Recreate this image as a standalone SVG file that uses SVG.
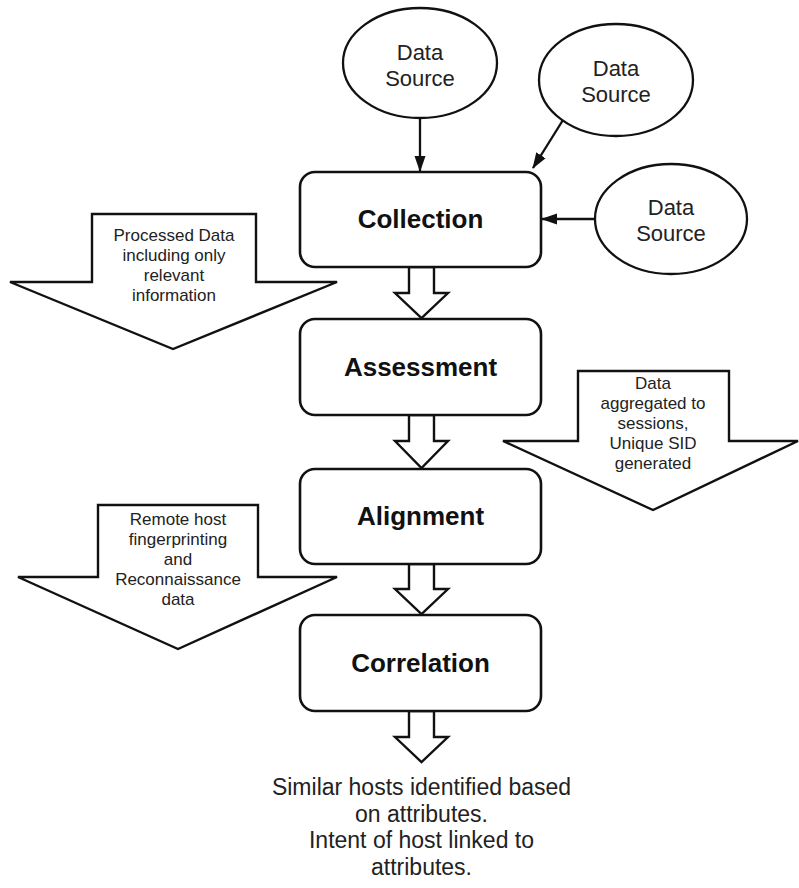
<svg xmlns="http://www.w3.org/2000/svg" width="799" height="888" viewBox="0 0 799 888">
  <style>
    .stage { fill: #fff; stroke: #111; stroke-width: 2.6; }
    .src { fill: #fff; stroke: #111; stroke-width: 2.3; }
    .flow { fill: #fff; stroke: #111; stroke-width: 2.4; stroke-linejoin: miter; }
    .link { fill: none; stroke: #111; stroke-width: 2.3; }
    .title { font-family: "Liberation Sans", Arial, sans-serif; font-weight: bold; font-size: 26px; fill: #111; text-anchor: middle; }
    .srcText { font-family: "Liberation Sans", Arial, sans-serif; font-size: 22px; fill: #222; text-anchor: middle; }
    .note { font-family: "Liberation Sans", Arial, sans-serif; font-size: 17px; fill: #222; text-anchor: middle; }
    .result { font-family: "Liberation Sans", Arial, sans-serif; font-size: 23px; fill: #222; text-anchor: middle; }
  </style>
  <defs>
    <marker id="head" markerWidth="16" markerHeight="12" viewBox="0 0 16 12" refX="15" refY="6" orient="auto" markerUnits="userSpaceOnUse">
      <path d="M0,0.5 L16,6 L0,11.5 Z" fill="#111"/>
    </marker>
  </defs>
  <rect width="799" height="888" fill="#fff"/>

  <!-- data sources -->
  <g id="source-top">
    <ellipse class="src" cx="420" cy="63" rx="77" ry="55"/>
    <text class="srcText" x="420" y="60">Data</text>
    <text class="srcText" x="420" y="86">Source</text>
  </g>
  <g id="source-upper-right">
    <ellipse class="src" cx="616" cy="80" rx="77" ry="56"/>
    <text class="srcText" x="616" y="76">Data</text>
    <text class="srcText" x="616" y="102">Source</text>
  </g>
  <g id="source-right">
    <ellipse class="src" cx="671" cy="219" rx="76" ry="55"/>
    <text class="srcText" x="671" y="215">Data</text>
    <text class="srcText" x="671" y="241">Source</text>
  </g>

  <!-- connectors: source links and stage-to-stage block arrows -->
  <g id="connectors">
    <line class="link" x1="420" y1="118" x2="420" y2="171" marker-end="url(#head)"/>
    <line class="link" x1="563" y1="120" x2="533" y2="168" marker-end="url(#head)"/>
    <line class="link" x1="595" y1="219" x2="542" y2="219" marker-end="url(#head)"/>
    <path class="flow" d="M409,267 L434,267 L434,293 L448,293 L421.5,318 L395,293 L409,293 Z"/>
    <path class="flow" d="M409,415 L434,415 L434,441 L448,441 L421.5,468 L395,441 L409,441 Z"/>
    <path class="flow" d="M409,564 L434,564 L434,589 L448,589 L421.5,614 L395,589 L409,589 Z"/>
    <path class="flow" d="M409,711 L434,711 L434,737 L448,737 L421.5,762 L395,737 L409,737 Z"/>
  </g>

  <!-- processing stages -->
  <g id="collection">
    <rect class="stage" x="300" y="172" width="241" height="95" rx="15"/>
    <text class="title" x="420.5" y="228">Collection</text>
  </g>
  <g id="assessment">
    <rect class="stage" x="300" y="319" width="241" height="96" rx="15"/>
    <text class="title" x="420.5" y="376">Assessment</text>
  </g>
  <g id="alignment">
    <rect class="stage" x="300" y="469" width="241" height="95" rx="15"/>
    <text class="title" x="420.5" y="525">Alignment</text>
  </g>
  <g id="correlation">
    <rect class="stage" x="300" y="615" width="241" height="96" rx="15"/>
    <text class="title" x="420.5" y="672">Correlation</text>
  </g>

  <!-- stage outputs -->
  <g id="note-processed">
    <path class="flow" d="M92,214 L256,214 L256,282 L337,282 L173,349 L10,282 L92,282 Z"/>
    <text class="note" x="174" y="241">Processed Data</text>
    <text class="note" x="174" y="261">including only</text>
    <text class="note" x="174" y="281">relevant</text>
    <text class="note" x="174" y="301">information</text>
  </g>
  <g id="note-sessions">
    <path class="flow" d="M578,371 L729,371 L729,441 L798,441 L653,510 L503,441 L578,441 Z"/>
    <text class="note" x="653" y="389">Data</text>
    <text class="note" x="653" y="409">aggregated to</text>
    <text class="note" x="653" y="429">sessions,</text>
    <text class="note" x="653" y="449">Unique SID</text>
    <text class="note" x="653" y="469">generated</text>
  </g>
  <g id="note-recon">
    <path class="flow" d="M98,505 L258,505 L258,577 L337,577 L178,649 L18,577 L98,577 Z"/>
    <text class="note" x="178" y="525">Remote host</text>
    <text class="note" x="178" y="545">fingerprinting</text>
    <text class="note" x="178" y="565">and</text>
    <text class="note" x="178" y="585">Reconnaissance</text>
    <text class="note" x="178" y="605">data</text>
  </g>

  <g id="result">
    <text class="result" x="421.5" y="795">Similar hosts identified based</text>
    <text class="result" x="421.5" y="822">on attributes.</text>
    <text class="result" x="421.5" y="848">Intent of host linked to</text>
    <text class="result" x="421.5" y="875">attributes.</text>
  </g>
</svg>
